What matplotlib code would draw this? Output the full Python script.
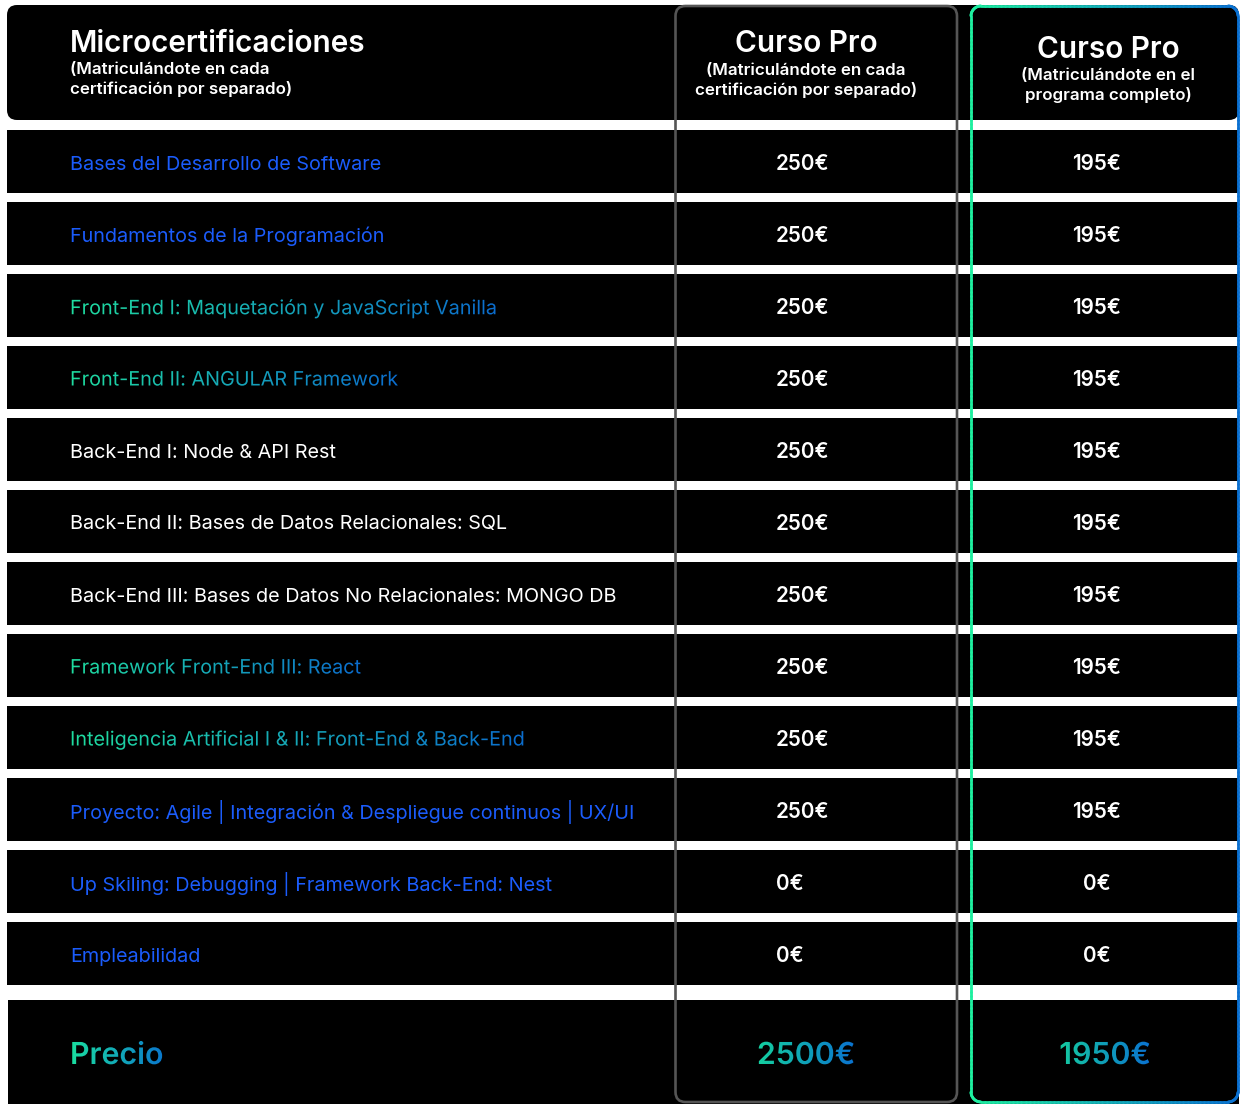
import numpy as np
import matplotlib
matplotlib.use("Agg")
import matplotlib.pyplot as plt
import matplotlib.colors as mcolors
from matplotlib.patches import FancyBboxPatch, Rectangle
from matplotlib.collections import LineCollection
from matplotlib.patheffects import AbstractPathEffect
from matplotlib.transforms import Bbox

# ---------------- data ----------------
categorias = [
    "Bases del Desarrollo de Software",
    "Fundamentos de la Programación",
    "Front-End I: Maquetación y JavaScript Vanilla",
    "Front-End II: ANGULAR Framework",
    "Back-End I: Node & API Rest",
    "Back-End II: Bases de Datos Relacionales: SQL",
    "Back-End III: Bases de Datos No Relacionales: MONGO DB",
    "Framework Front-End III: React",
    "Inteligencia Artificial I & II: Front-End & Back-End",
    "Proyecto: Agile | Integración & Despliegue continuos | UX/UI",
    "Up Skiling: Debugging | Framework Back-End: Nest",
    "Empleabilidad",
]
precio_separado = [250, 250, 250, 250, 250, 250, 250, 250, 250, 250, 0, 0]
precio_completo = [195, 195, 195, 195, 195, 195, 195, 195, 195, 195, 0, 0]
estilo_etiqueta = ["blue", "blue", "grad", "grad", "white", "white", "white",
                   "grad", "grad", "blue", "blue", "blue"]

titulo_col0 = "Microcertificaciones"
sub_col0 = "(Matriculándote en cada\ncertificación por separado)"
titulo_col1 = "Curso Pro"
sub_col1 = "(Matriculándote en cada\ncertificación por separado)"
titulo_col2 = "Curso Pro"
sub_col2 = "(Matriculándote en el\nprograma completo)"
etiqueta_total = "Precio"

total_separado = sum(precio_separado)
total_completo = sum(precio_completo)

# ---------------- style ----------------
FONT = ["Inter", "DejaVu Sans"]
plt.rcParams["font.family"] = FONT
BLUE = "#1b5cfb"
G0 = "#1fdc9f"
G1 = "#0b6ccd"
GRAY = "#555555"


class HGradient(AbstractPathEffect):
    """Fill a text path with a horizontal colour gradient."""

    def __init__(self, c0, c1, n=48):
        super().__init__()
        self.c0 = np.array(mcolors.to_rgb(c0))
        self.c1 = np.array(mcolors.to_rgb(c1))
        self.n = n

    def draw_path(self, renderer, gc, tpath, affine, rgbFace=None):
        ext = tpath.transformed(affine).get_extents()
        edges = np.linspace(ext.x0 - 0.5, ext.x1 + 0.5, self.n + 1)
        for i in range(self.n):
            gc0 = renderer.new_gc()
            gc0.copy_properties(gc)
            gc0.set_clip_rectangle(Bbox([[edges[i], ext.y0 - 4],
                                         [edges[i + 1], ext.y1 + 4]]))
            gc0.set_linewidth(0)
            t = (i + 0.5) / self.n
            col = tuple(self.c0 * (1 - t) + self.c1 * t)
            renderer.draw_path(gc0, tpath, affine, col)
            gc0.restore()


W, H = 1246, 1104
fig = plt.figure(figsize=(W / 100, H / 100), dpi=100)
fig.patch.set_facecolor("white")
ax = fig.add_axes([0, 0, 1, 1])
ax.set_xlim(0, W)
ax.set_ylim(H, 0)
ax.axis("off")

# layout
X0, X1 = 7, 1239
ROW0, PITCH, ROWH = 130, 72, 63
LABEL_X = 70
V1_X, V2_X = 776, 1097
DY = 2.5  # baseline correction for va="center"

# header band
ax.add_patch(FancyBboxPatch((X0, 5), X1 - X0, 115,
                            boxstyle="round,pad=0,rounding_size=10",
                            fc="black", ec="none", zorder=1))
# row bands
for i in range(len(categorias)):
    ax.add_patch(Rectangle((X0, ROW0 + PITCH * i), X1 - X0, ROWH,
                           fc="black", ec="none", zorder=1))
# price band
ax.add_patch(Rectangle((X0 + 1, 1000), X1 - X0 - 1, 120,
                       fc="black", ec="none", zorder=1))

# gray column box
ax.add_patch(FancyBboxPatch((675.5, 6), 281.5, 1096,
                            boxstyle="round,pad=0,rounding_size=10",
                            fc="none", ec=GRAY, lw=1.9, zorder=5))


# gradient column box
def rounded_rect_pts(x0, y0, x1, y1, r, n=24):
    pts = []
    corners = [(x1 - r, y0 + r, -90, 0), (x1 - r, y1 - r, 0, 90),
               (x0 + r, y1 - r, 90, 180), (x0 + r, y0 + r, 180, 270)]
    for cx, cy, a0, a1 in corners:
        a = np.radians(np.linspace(a0, a1, n))
        pts.append(np.column_stack([cx + r * np.cos(a), cy + r * np.sin(a)]))
    pts = np.vstack(pts)
    pts = np.vstack([pts, pts[:1]])
    out = [pts[0]]
    for p, q in zip(pts[:-1], pts[1:]):
        k = max(1, int(np.hypot(*(q - p)) / 4))
        for s in np.linspace(0, 1, k + 1)[1:]:
            out.append(p + (q - p) * s)
    return np.array(out)


bx0, bx1 = 971, 1238
pts = rounded_rect_pts(bx0, 6, bx1, 1102, 10)
segs = np.stack([pts[:-1], pts[1:]], axis=1)
mx = (segs[:, 0, 0] + segs[:, 1, 0]) / 2
t = np.clip((mx - bx0) / (bx1 - bx0), 0, 1)
c0 = np.array(mcolors.to_rgb("#1ef0a0"))
c1 = np.array(mcolors.to_rgb("#0a70d2"))
cols = c0[None, :] * (1 - t[:, None]) + c1[None, :] * t[:, None]
ax.add_collection(LineCollection(segs, colors=cols, linewidths=2.0,
                                 capstyle="round", zorder=5))

# header texts
TS, SS = 21.4, 12.2
ax.text(LABEL_X, 41 + DY, titulo_col0, color="white", fontsize=TS,
        fontweight="semibold", va="center", ha="left", zorder=6)
ax.text(LABEL_X, 77 + DY, sub_col0, color="white", fontsize=SS,
        fontweight="semibold", va="center", ha="left", linespacing=1.3,
        zorder=6)
ax.text(806, 42 + DY, titulo_col1, color="white", fontsize=TS,
        fontweight="semibold", va="center", ha="center", zorder=6)
ax.text(806, 78 + DY, sub_col1, color="white", fontsize=SS,
        fontweight="semibold", va="center", ha="center", linespacing=1.3,
        multialignment="center", zorder=6)
ax.text(1108, 47 + DY, titulo_col2, color="white", fontsize=TS,
        fontweight="semibold", va="center", ha="center", zorder=6)
ax.text(1108, 83 + DY, sub_col2, color="white", fontsize=SS,
        fontweight="semibold", va="center", ha="center", linespacing=1.3,
        multialignment="center", zorder=6)

# rows
RS, VS = 14.25, 14.9
for i, (cat, v1, v2, st) in enumerate(zip(categorias, precio_separado,
                                          precio_completo, estilo_etiqueta)):
    yc = ROW0 + PITCH * i + ROWH / 2 + 0.5 + DY
    kw = dict(fontsize=RS, va="center", ha="left", zorder=6)
    if st == "grad":
        ax.text(LABEL_X, yc, cat, color=G0,
                path_effects=[HGradient(G0, G1)], **kw)
    elif st == "blue":
        ax.text(LABEL_X, yc, cat, color=BLUE, **kw)
    else:
        ax.text(LABEL_X, yc, cat, color="white", **kw)
    ax.text(V1_X, yc, f"{v1}€", color="white", fontsize=VS,
            fontweight="semibold", va="center", ha="left", zorder=6)
    ax.text(V2_X, yc, f"{v2}€", color="white", fontsize=VS,
            fontweight="semibold", va="center", ha="center", zorder=6)

# totals
yt = 1053 + DY + 0.5
PS = 21.8
ax.text(LABEL_X, yt, etiqueta_total, color=G0, fontsize=PS,
        fontweight="semibold", va="center", ha="left", zorder=6,
        path_effects=[HGradient("#19dca0", "#0a78cc")])
ax.text(806, yt, f"{total_separado}€", color=G0, fontsize=PS,
        fontweight="semibold", va="center", ha="center", zorder=6,
        path_effects=[HGradient("#14cfa0", "#0a72cf")])
ax.text(1105, yt, f"{total_completo}€", color=G0, fontsize=PS,
        fontweight="semibold", va="center", ha="center", zorder=6,
        path_effects=[HGradient("#14c8a0", "#0a72cf")])

fig.savefig("out.png", dpi=100, facecolor="white")
